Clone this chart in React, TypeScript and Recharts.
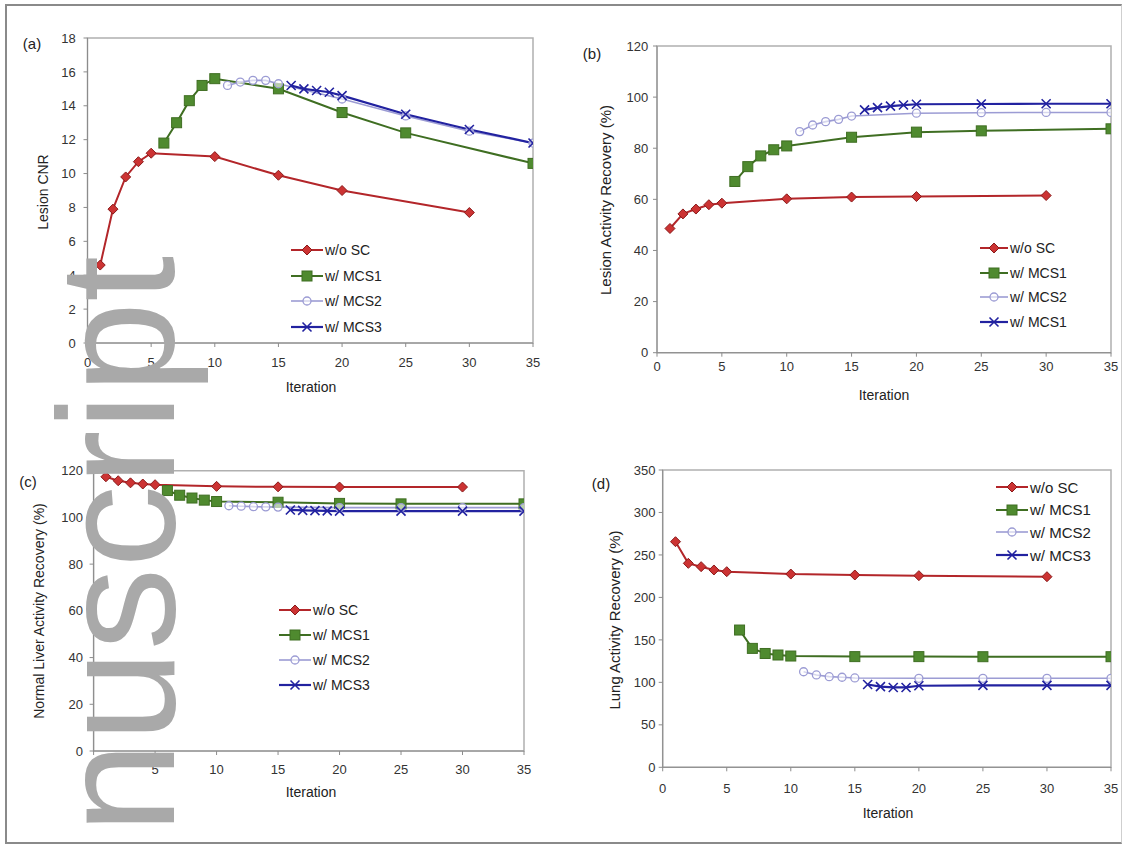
import React from "react";
import { LineChart, Line, XAxis, YAxis, ReferenceArea } from "recharts";

// ---------- data ----------
const ITER_SC = [1, 2, 3, 4, 5, 10, 15, 20, 30];
const ITER_MCS1 = [6, 7, 8, 9, 10, 15, 20, 25, 35];
const ITER_MCS2 = [11, 12, 13, 14, 15, 20, 25, 30, 35];
const ITER_MCS3 = [16, 17, 18, 19, 20, 25, 30, 35];
const X_TICKS = [0, 5, 10, 15, 20, 25, 30, 35];

// (a) Lesion CNR
const CNR_SC = [4.6, 7.9, 9.8, 10.7, 11.2, 11.0, 9.9, 9.0, 7.7];
const CNR_MCS1 = [11.8, 13.0, 14.3, 15.2, 15.6, 15.0, 13.6, 12.4, 10.6];
const CNR_MCS2 = [15.2, 15.4, 15.5, 15.5, 15.3, 14.4, 13.4, 12.5, 11.8];
const CNR_MCS3 = [15.2, 15.0, 14.9, 14.8, 14.6, 13.5, 12.6, 11.8];
const CNR_TICKS = [0, 2, 4, 6, 8, 10, 12, 14, 16, 18];

// (b) Lesion activity recovery
const LAR_SC = [48.6, 54.3, 56.2, 57.9, 58.5, 60.2, 60.9, 61.1, 61.5];
const LAR_MCS1 = [67, 72.8, 77, 79.4, 80.9, 84.3, 86.3, 86.8, 87.6];
const LAR_MCS2 = [86.5, 89.1, 90.4, 91.3, 92.6, 93.7, 93.9, 94, 94];
const LAR_MCS3 = [95, 95.9, 96.5, 96.9, 97.2, 97.3, 97.4, 97.4];
const PCT_TICKS = [0, 20, 40, 60, 80, 100, 120];

// (c) Normal liver activity recovery
const NLR_SC = [117.4, 115.7, 114.8, 114.3, 114, 113.3, 113.1, 113, 113];
const NLR_MCS1 = [111.5, 109.5, 108.3, 107.4, 106.8, 106.5, 106, 105.8, 105.8];
const NLR_MCS2 = [105, 104.8, 104.6, 104.5, 104.4, 104.2, 104.2, 104.2, 104.2];
const NLR_MCS3 = [103.2, 103, 102.9, 102.8, 102.7, 102.7, 102.7, 102.7];

// (d) Lung activity recovery
const LUNG_SC = [265.6, 240.1, 236.2, 232.3, 230.3, 227.5, 226.4, 225.6, 224.4];
const LUNG_MCS1 = [161.6, 140, 134, 132.2, 131, 130.3, 130.3, 130.2, 130.2];
const LUNG_MCS2 = [112.5, 108.7, 106.7, 106, 105.2, 104.8, 104.8, 104.8, 104.8];
const LUNG_MCS3 = [97.5, 95, 94, 94, 96, 96.5, 96.5, 96.5];
const LUNG_TICKS = [0, 50, 100, 150, 200, 250, 300, 350];

const LABELS_STD = ["w/o SC", "w/ MCS1", "w/ MCS2", "w/ MCS3"];
const LABELS_B = ["w/o SC", "w/ MCS1", "w/ MCS2", "w/ MCS1"];

// ---------- styles ----------
const FONT = "'Liberation Sans', Arial, Helvetica, sans-serif";
const RED_LINE = "#b3262a";
const RED_FILL = "#cc3333";
const RED_EDGE = "#8a1a1a";
const GREEN_LINE = "#3f6e22";
const GREEN_FILL = "#4f8a2f";
const LAV = "#9c9cd4";
const BLUE = "#2222a0";

const zip = (xs: number[], ys: number[]) => xs.map((x, i) => ({ x, y: ys[i] }));

const diamondPath = (cx: number, cy: number, r: number) =>
  `M${cx},${cy - r}L${cx + r},${cy}L${cx},${cy + r}L${cx - r},${cy}Z`;

type MarkerKind = "diamond" | "square" | "circle" | "cross";

function markerEl(kind: MarkerKind, cx: number, cy: number, key?: any) {
  if (kind === "diamond")
    return <path key={key} d={diamondPath(cx, cy, 5)} fill={RED_FILL} stroke={RED_EDGE} strokeWidth={1} />;
  if (kind === "square")
    return <rect key={key} x={cx - 5} y={cy - 5} width={10} height={10} fill={GREEN_FILL} stroke={GREEN_LINE} strokeWidth={1} />;
  if (kind === "circle")
    return <circle key={key} cx={cx} cy={cy} r={4} fill="#ffffff" fillOpacity={0.6} stroke={LAV} strokeWidth={1.3} />;
  return (
    <g key={key}>
      <path d={`M${cx - 4.5},${cy - 4.5}L${cx + 4.5},${cy + 4.5}M${cx - 4.5},${cy + 4.5}L${cx + 4.5},${cy - 4.5}`} stroke={BLUE} strokeWidth={1.6} />
    </g>
  );
}

const dotFn = (kind: MarkerKind) => (props: any) => {
  const { cx, cy, index } = props;
  if (cx == null || cy == null) return <g key={index} />;
  return markerEl(kind, cx, cy, index);
};

const SERIES: { kind: MarkerKind; color: string; width: number }[] = [
  { kind: "diamond", color: RED_LINE, width: 2 },
  { kind: "square", color: GREEN_LINE, width: 2 },
  { kind: "circle", color: LAV, width: 1.6 },
  { kind: "cross", color: BLUE, width: 2.2 },
];

type PanelProps = {
  box: { left: number; top: number; width: number; height: number };
  plot: { x0: number; x1: number; y0: number; y1: number };
  yMax: number;
  yTicks: number[];
  series: { x: number; y: number }[][];
  yTickMargin: number;
  xTickMargin: number;
};

const Y_W = 30;
const X_H = 20;

function Panel({ box, plot, yMax, yTicks, series, yTickMargin, xTickMargin }: PanelProps) {
  const margin = {
    top: plot.y0 - box.top,
    right: box.left + box.width - plot.x1,
    bottom: box.top + box.height - plot.y1 - X_H,
    left: plot.x0 - box.left - Y_W,
  };
  const tickStyle = { fontSize: 13, fill: "#333", fontFamily: FONT };
  return (
    <div style={{ position: "absolute", left: box.left, top: box.top }}>
      <LineChart width={box.width} height={box.height} margin={margin}>
        <XAxis
          dataKey="x"
          type="number"
          domain={[0, 35]}
          ticks={X_TICKS}
          allowDataOverflow
          height={X_H}
          tickSize={4}
          tickMargin={xTickMargin}
          tick={tickStyle}
          stroke="#8c8c8c"
          tickLine={{ stroke: "#8c8c8c" }}
        />
        <YAxis
          type="number"
          domain={[0, yMax]}
          ticks={yTicks}
          allowDataOverflow
          width={Y_W}
          tickSize={4}
          tickMargin={yTickMargin}
          tick={tickStyle}
          stroke="#8c8c8c"
          tickLine={{ stroke: "#8c8c8c" }}
          interval={0}
        />
        <ReferenceArea x1={0} x2={35} y1={0} y2={yMax} fill="none" stroke="#b0b0b0" strokeWidth={1.5} ifOverflow="visible" />
        {series.map((d, i) => (
          <Line
            key={i}
            data={d}
            dataKey="y"
            type="linear"
            stroke={SERIES[i].color}
            strokeWidth={SERIES[i].width}
            dot={dotFn(SERIES[i].kind)}
            activeDot={false}
            isAnimationActive={false}
            legendType="none"
          />
        ))}
      </LineChart>
    </div>
  );
}

function LegendBox({ x, y0, dy, labels, sample, fontSize }: { x: number; y0: number; dy: number; labels: string[]; sample: number; fontSize: number }) {
  return (
    <>
      {labels.map((lab, i) => (
        <div
          key={i}
          style={{
            position: "absolute",
            left: x,
            top: y0 + i * dy - 9,
            height: 18,
            display: "flex",
            alignItems: "center",
            whiteSpace: "nowrap",
            fontFamily: FONT,
            fontSize,
            color: "#222",
          }}
        >
          <svg width={sample} height={14} style={{ display: "block" }}>
            <line x1={0} y1={7} x2={sample} y2={7} stroke={SERIES[i].color} strokeWidth={SERIES[i].width} />
            {markerEl(SERIES[i].kind, sample / 2, 7)}
          </svg>
          <span style={{ marginLeft: 2 }}>{lab}</span>
        </div>
      ))}
    </>
  );
}

function Txt({ x, y, children, size = 14, rotate = false }: { x: number; y: number; children: React.ReactNode; size?: number; rotate?: boolean }) {
  return (
    <div
      style={{
        position: "absolute",
        left: x,
        top: y,
        transform: `translate(-50%, -50%)${rotate ? " rotate(-90deg)" : ""}`,
        whiteSpace: "nowrap",
        fontFamily: FONT,
        fontSize: size,
        color: "#222",
        lineHeight: 1,
      }}
    >
      {children}
    </div>
  );
}

export default function App() {
  return (
    <div style={{ position: "absolute", left: 0, top: 0, width: 1125, height: 846, background: "#ffffff", overflow: "hidden" }}>
      {/* (a) */}
      <Panel
        box={{ left: 0, top: 0, width: 560, height: 420 }}
        plot={{ x0: 87.5, x1: 533, y0: 38, y1: 343 }}
        yMax={18}
        yTicks={CNR_TICKS}
        series={[zip(ITER_SC, CNR_SC), zip(ITER_MCS1, CNR_MCS1), zip(ITER_MCS2, CNR_MCS2), zip(ITER_MCS3, CNR_MCS3)]}
        yTickMargin={7.8}
        xTickMargin={10.5}
      />
      {/* (b) */}
      <Panel
        box={{ left: 560, top: 0, width: 565, height: 420 }}
        plot={{ x0: 657, x1: 1111, y0: 46, y1: 352.7 }}
        yMax={120}
        yTicks={PCT_TICKS}
        series={[zip(ITER_SC, LAR_SC), zip(ITER_MCS1, LAR_MCS1), zip(ITER_MCS2, LAR_MCS2), zip(ITER_MCS3, LAR_MCS3)]}
        yTickMargin={4.7}
        xTickMargin={5}
      />
      {/* (c) */}
      <Panel
        box={{ left: 0, top: 420, width: 560, height: 426 }}
        plot={{ x0: 93.6, x1: 524, y0: 470.7, y1: 751 }}
        yMax={120}
        yTicks={PCT_TICKS}
        series={[zip(ITER_SC, NLR_SC), zip(ITER_MCS1, NLR_MCS1), zip(ITER_MCS2, NLR_MCS2), zip(ITER_MCS3, NLR_MCS3)]}
        yTickMargin={6.7}
        xTickMargin={9.8}
      />
      {/* (d) */}
      <Panel
        box={{ left: 560, top: 420, width: 565, height: 426 }}
        plot={{ x0: 662.7, x1: 1111, y0: 470, y1: 767.3 }}
        yMax={350}
        yTicks={LUNG_TICKS}
        series={[zip(ITER_SC, LUNG_SC), zip(ITER_MCS1, LUNG_MCS1), zip(ITER_MCS2, LUNG_MCS2), zip(ITER_MCS3, LUNG_MCS3)]}
        yTickMargin={3.2}
        xTickMargin={12.5}
      />

      {/* panel labels */}
      <Txt x={32} y={43} size={15}>(a)</Txt>
      <Txt x={592} y={53} size={15}>(b)</Txt>
      <Txt x={28} y={481} size={15}>(c)</Txt>
      <Txt x={601} y={483} size={15}>(d)</Txt>

      {/* axis titles */}
      <Txt x={43} y={192} rotate>Lesion CNR</Txt>
      <Txt x={311} y={387}>Iteration</Txt>
      <Txt x={605} y={200} rotate size={15}>Lesion Activity Recovery (%)</Txt>
      <Txt x={884} y={395}>Iteration</Txt>
      <Txt x={39} y={611} rotate>Normal Liver Activity Recovery (%)</Txt>
      <Txt x={311} y={792}>Iteration</Txt>
      <Txt x={614} y={620} rotate size={15}>Lung Activity Recovery (%)</Txt>
      <Txt x={888} y={813}>Iteration</Txt>

      {/* legends */}
      <LegendBox x={291} y0={250} dy={25.6} labels={LABELS_STD} sample={32} fontSize={14} />
      <LegendBox x={980} y0={248} dy={24.5} labels={LABELS_B} sample={28} fontSize={14} />
      <LegendBox x={279} y0={610} dy={25} labels={LABELS_STD} sample={32} fontSize={14} />
      <LegendBox x={996} y0={487} dy={22.7} labels={LABELS_STD} sample={32} fontSize={15} />

      {/* outer frame */}
      <div style={{ position: "absolute", left: 5, top: 4, width: 1117, height: 840, border: "2px solid #8a8a8a", borderRight: "1px solid #cfcfcf", boxSizing: "border-box" }} />

      {/* watermark */}
      <svg width={1125} height={846} style={{ position: "absolute", left: 0, top: 0, pointerEvents: "none" }}>
        <text
          transform="translate(174,256) rotate(-90)"
          textAnchor="end"
          fontSize={165}
          fontFamily={FONT}
          fill="#a9a9a9"
        >
          nuscript
        </text>
      </svg>
    </div>
  );
}
